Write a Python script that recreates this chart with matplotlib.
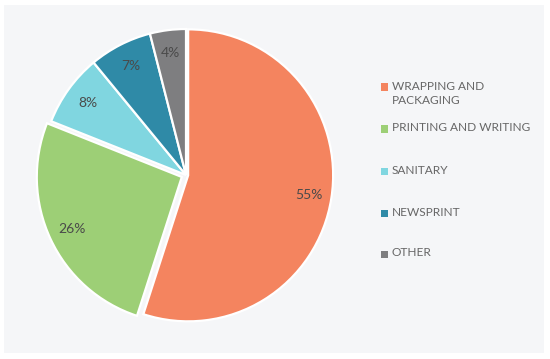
import matplotlib
matplotlib.use("Agg")
import matplotlib.pyplot as plt
from matplotlib.patches import Rectangle

labels = ["WRAPPING AND\nPACKAGING", "PRINTING AND WRITING", "SANITARY", "NEWSPRINT", "OTHER"]
shares = [55, 26, 8, 7, 4]
colors = ["#f4845f", "#9dcf76", "#80d6e0", "#2f8aa7", "#7e7e80"]
explode = [0.015, 0.032, 0, 0, 0]

W, H = 550, 359
plt.rcParams["font.family"] = ["Lato", "DejaVu Sans"]

fig = plt.figure(figsize=(W / 100, H / 100), dpi=100)
fig.patch.set_facecolor("white")

# light grey panel behind everything
fig.patches.append(Rectangle((4 / W, 1 - 353 / H), 540 / W, 348 / H,
                             transform=fig.transFigure, facecolor="#f5f6f8",
                             edgecolor="none", zorder=-1))

# pie: centre ~ (186, 175) px, radius ~ 145 x 146 px
cx, cy, rx, ry = 186, 175, 145, 146
lim = 1.12
w, h = 2 * rx * lim, 2 * ry * lim
ax = fig.add_axes([(cx - w / 2) / W, 1 - (cy + h / 2) / H, w / W, h / H])
ax.set_zorder(2)
ax.pie(shares, colors=colors, explode=explode, startangle=90, counterclock=False,
       autopct="%d%%", pctdistance=0.84,
       wedgeprops=dict(edgecolor="white", linewidth=1.6),
       textprops=dict(color="#4a4a4a", fontsize=10))
ax.set_xlim(-lim, lim)
ax.set_ylim(-lim, lim)
ax.set_aspect("auto")
ax.axis("off")

# legend, placed by hand
ys = [87, 129, 171, 213, 254]
for lab, col, y in zip(labels, colors, ys):
    fig.patches.append(Rectangle((381 / W, 1 - (y + 3.5) / H), 7 / W, 7 / H,
                                 transform=fig.transFigure, facecolor=col,
                                 edgecolor="none", zorder=1))
    fig.text(392 / W, 1 - (y - 6.5) / H, lab, color="#666666", fontsize=8.6,
             va="top", ha="left", linespacing=1.35)

fig.savefig("out.png", dpi=100, facecolor="white")
